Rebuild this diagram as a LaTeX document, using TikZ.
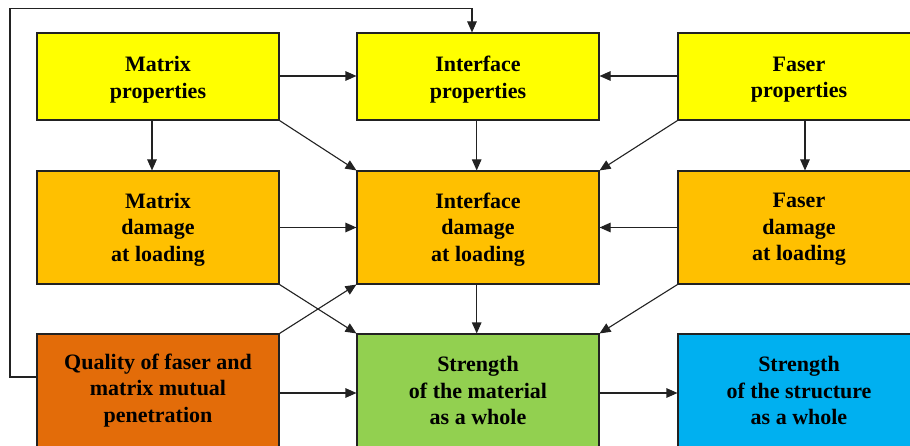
\documentclass[tikz,border=0pt]{standalone}
\usepackage{fontspec}
\setmainfont{Liberation Serif}
\usetikzlibrary{arrows.meta}
\definecolor{cyel}{HTML}{FFFF00}
\definecolor{corg}{HTML}{FFC000}
\definecolor{cdark}{HTML}{E36C09}
\definecolor{cgrn}{HTML}{92D050}
\definecolor{cblu}{HTML}{00B0F0}
\definecolor{cline}{HTML}{222222}
\tikzset{
  boxnode/.style={draw=cline, line width=1.1pt, rectangle, minimum width=242pt, inner sep=0pt},
  toprow/.style={boxnode, minimum height=87pt},
  lowrow/.style={boxnode, minimum height=113pt},
  lbl/.style={align=center, inner sep=0pt, font=\fontsize{22}{26.5}\selectfont\bfseries},
  conn/.style={draw=cline, line width=1.1pt, -{Triangle[length=11pt,width=9.5pt]}},
}
\begin{document}
\begin{tikzpicture}[x=1pt,y=-1pt]
\useasboundingbox (0,0) rectangle (910,446);
\clip (0,0) rectangle (910,446);
\fill[white] (0,0) rectangle (910,446);
% row 1
\node[toprow, fill=cyel, label={[lbl, yshift=-3pt]center:{Matrix\\properties}}] (mp) at (158,76.5) {};
\node[toprow, fill=cyel, label={[lbl, yshift=-3pt]center:{Interface\\properties}}] (ip) at (478,76.5) {};
\node[toprow, fill=cyel, label={[lbl, yshift=-3pt]center:{Faser\\properties}}] (fp) at (799,76.5) {};
% row 2
\node[lowrow, fill=corg, label={[lbl, yshift=-2pt]center:{Matrix\\damage\\at loading}}] (md) at (158,227.5) {};
\node[lowrow, fill=corg, label={[lbl, yshift=-2pt]center:{Interface\\damage\\at loading}}] (id) at (478,227.5) {};
\node[lowrow, fill=corg, label={[lbl, yshift=-2pt]center:{Faser\\damage\\at loading}}] (fd) at (799,227.5) {};
% row 3
\node[lowrow, fill=cdark, label={[lbl]center:{Quality of faser and\\matrix mutual\\penetration}}] (q) at (158,390.5) {};
\node[lowrow, fill=cgrn, label={[lbl]center:{Strength\\of the material\\as a whole}}] (s) at (478,390.5) {};
\node[lowrow, fill=cblu, label={[lbl]center:{Strength\\of the structure\\as a whole}}] (ss) at (799,390.5) {};
% feedback corner
\coordinate (fb) at (10,8.5);
% connectors row 1
\draw[conn] ([yshift=0.5pt]mp.east) -- ([yshift=0.5pt]ip.west);
\draw[conn] ([yshift=0.5pt]fp.west) -- ([yshift=0.5pt]ip.east);
\draw[conn] ([xshift=-6pt]mp.south) -- ([xshift=-6pt]md.north);
\draw[conn] ([xshift=-1.3pt]ip.south) -- ([xshift=-1.3pt]id.north);
\draw[conn] ([xshift=6pt]fp.south) -- ([xshift=6pt]fd.north);
\draw[conn] (mp.south east) -- (id.north west);
\draw[conn] (fp.south west) -- (id.north east);
% connectors row 2
\draw[conn] (md.east) -- (id.west);
\draw[conn] (fd.west) -- (id.east);
\draw[conn] ([xshift=-1.3pt]id.south) -- ([xshift=-1.3pt]s.north);
\draw[conn] (md.south east) -- (s.north west);
\draw[conn] (q.north east) -- (id.south west);
\draw[conn] (fd.south west) -- (s.north east);
% connectors row 3
\draw[conn] ([yshift=-2.5pt]q.east) -- ([yshift=-2.5pt]s.west);
\draw[conn] ([yshift=-2.5pt]s.east) -- ([yshift=-2.5pt]ss.west);
% feedback loop
\draw[conn] ([yshift=13.5pt]q.west) -| (fb) -| ([xshift=-6pt]ip.north);
\end{tikzpicture}
\end{document}
